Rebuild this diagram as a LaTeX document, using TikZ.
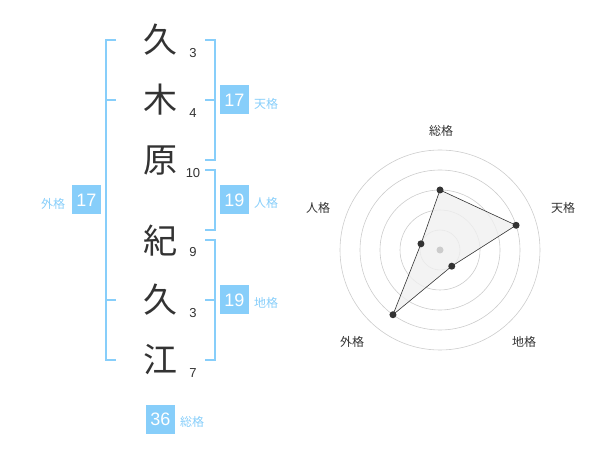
\documentclass[tikz,border=0pt]{standalone}
\usepackage{fontspec}
\setmainfont{Liberation Sans}
\newfontfamily\jpfont{Noto Sans CJK JP}
\definecolor{kakublue}{HTML}{87CEFA}
\definecolor{moji}{HTML}{333333}
\definecolor{ringgray}{HTML}{CCCCCC}
\tikzset{
  kanji/.style={text=moji, font=\jpfont\fontsize{34}{34}\selectfont, inner sep=0pt},
  kakusu/.style={text=moji, font=\fontsize{13}{13}\selectfont, inner sep=0pt},
  kakubox/.style={fill=kakublue, text=white, minimum size=29pt, inner sep=0pt, font=\fontsize{18}{18}\selectfont},
  kakuname/.style={text=kakublue, font=\jpfont\fontsize{12}{12}\selectfont, inner sep=0pt},
  bracket/.style={draw=kakublue, line width=1.5pt},
  axisname/.style={text=moji, font=\jpfont\fontsize{12}{12}\selectfont, inner sep=0pt},
  ring/.style={draw=ringgray, line width=0.6pt}
}
\begin{document}
\begin{tikzpicture}[x=1pt,y=-1pt]
  \useasboundingbox (0,0) rectangle (600,470);

  % Name, one character per line
  \node[kanji] (c1) at (160,40) {久};
  \node[kanji] (c2) at (160,100) {木};
  \node[kanji] (c3) at (160,161) {原};
  \node[kanji] (c4) at (160,241) {紀};
  \node[kanji] (c5) at (160,300) {久};
  \node[kanji] (c6) at (160,360) {江};

  % Stroke counts
  \node[kakusu] (n1) at (193,53) {3};
  \node[kakusu] (n2) at (193,113) {4};
  \node[kakusu] (n3) at (193,173) {10};
  \node[kakusu] (n4) at (193,252) {9};
  \node[kakusu] (n5) at (193,313) {3};
  \node[kakusu] (n6) at (193,373) {7};

  % Brackets
  \draw[bracket] (116,40) -- (106,40) -- (106,360) -- (116,360);
  \draw[bracket] (106,100) -- (116,100);
  \draw[bracket] (106,300) -- (116,300);
  \draw[bracket] (205,40) -- (215,40) -- (215,160) -- (205,160);
  \draw[bracket] (205,100) -- (215,100);
  \draw[bracket] (205,170) -- (215,170) -- (215,230) -- (205,230);
  \draw[bracket] (205,240) -- (215,240) -- (215,360) -- (205,360);
  \draw[bracket] (205,300) -- (215,300);

  % Totals
  \node[kakubox] (ten) at (234.5,100) {17};
  \node[kakuname] (tenname) at (266,104) {天格};
  \node[kakubox] (jin) at (234.5,200) {19};
  \node[kakuname] (jinname) at (266,203) {人格};
  \node[kakubox] (chi) at (234.5,300) {19};
  \node[kakuname] (chiname) at (266,303) {地格};
  \node[kakubox] (gai) at (86.5,200) {17};
  \node[kakuname] (gainame) at (53,204) {外格};
  \node[kakubox] (sou) at (160.5,419) {36};
  \node[kakuname] (souname) at (192,422) {総格};

  % Radar chart
  \begin{scope}[shift={(440,250)},x=1pt,y=1pt]
    \draw[ring] (0,0) circle(20);
    \draw[ring] (0,0) circle(40);
    \draw[ring] (0,0) circle(60);
    \draw[ring] (0,0) circle(80);
    \draw[ring] (0,0) circle(100);

    \filldraw[fill=black!6, fill opacity=0.8, draw=moji, line width=0.6pt]
      (90:60) -- (18:80) -- (-54:20) -- (-126:80) -- (162:20) -- cycle;
    \fill[ringgray] (0,0) circle(3.5);
    \fill[moji] (90:60) circle(3.5);
    \fill[moji] (18:80) circle(3.5);
    \fill[moji] (-54:20) circle(3.5);
    \fill[moji] (-126:80) circle(3.5);
    \fill[moji] (162:20) circle(3.5);
  \end{scope}

  \node[axisname] (asou) at (441,131) {総格};
  \node[axisname] (aten) at (563,208) {天格};
  \node[axisname] (achi) at (524,342) {地格};
  \node[axisname] (agai) at (352,342) {外格};
  \node[axisname] (ajin) at (318,208) {人格};
\end{tikzpicture}
\end{document}
